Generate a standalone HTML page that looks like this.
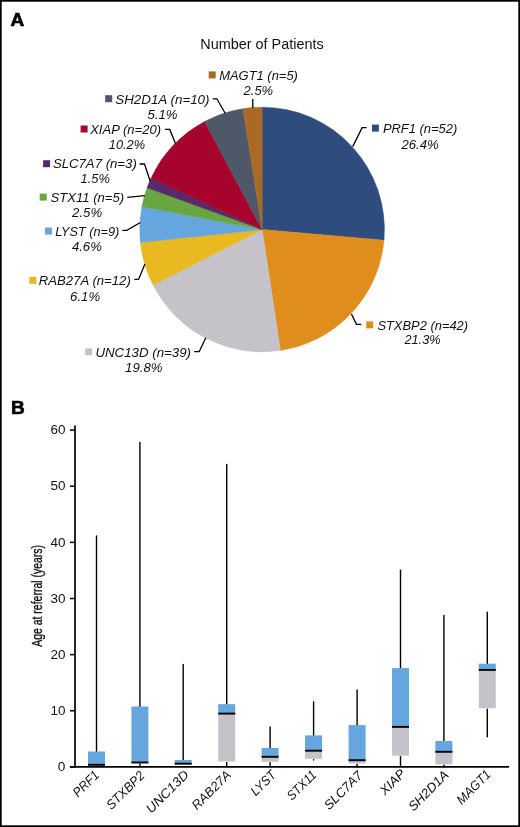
<!DOCTYPE html>
<html><head><meta charset="utf-8"><style>
html,body{margin:0;padding:0;background:#fff;}
body{width:520px;height:827px;overflow:hidden;}
svg{display:block;will-change:transform;}
text{font-family:"Liberation Sans",sans-serif;}
</style></head><body>
<svg width="520" height="827" viewBox="0 0 520 827">
<rect x="0" y="0" width="520" height="827" fill="#fff"/>
<text id="lblA" x="10.6" y="26.3" font-weight="bold" font-size="19" stroke="#000" stroke-width="0.7">A</text>
<text id="title" x="200.3" y="48.8" font-size="14.6" textLength="123.4" lengthAdjust="spacingAndGlyphs" fill="#111">Number of Patients</text>
<g><path d="M262.1,229.55 L262.10,107.20 A122.35,122.35 0 0 1 383.98,240.21 Z" fill="#2E4C7E" stroke="#2E4C7E" stroke-width="0.5" stroke-linejoin="round"/><path d="M262.1,229.55 L383.98,240.21 A122.35,122.35 0 0 1 280.40,350.52 Z" fill="#DF8D1D" stroke="#DF8D1D" stroke-width="0.5" stroke-linejoin="round"/><path d="M262.1,229.55 L280.40,350.52 A122.35,122.35 0 0 1 153.09,285.10 Z" fill="#C5C3C9" stroke="#C5C3C9" stroke-width="0.5" stroke-linejoin="round"/><path d="M262.1,229.55 L153.09,285.10 A122.35,122.35 0 0 1 140.43,242.45 Z" fill="#EAB820" stroke="#EAB820" stroke-width="0.5" stroke-linejoin="round"/><path d="M262.1,229.55 L140.43,242.45 A122.35,122.35 0 0 1 141.92,206.62 Z" fill="#64A6DD" stroke="#64A6DD" stroke-width="0.5" stroke-linejoin="round"/><path d="M262.1,229.55 L141.92,206.62 A122.35,122.35 0 0 1 147.09,187.80 Z" fill="#67A640" stroke="#67A640" stroke-width="0.5" stroke-linejoin="round"/><path d="M262.1,229.55 L147.09,187.80 A122.35,122.35 0 0 1 151.12,178.04 Z" fill="#582A68" stroke="#582A68" stroke-width="0.5" stroke-linejoin="round"/><path d="M262.1,229.55 L151.12,178.04 A122.35,122.35 0 0 1 204.66,121.52 Z" fill="#A6032D" stroke="#A6032D" stroke-width="0.5" stroke-linejoin="round"/><path d="M262.1,229.55 L204.66,121.52 A122.35,122.35 0 0 1 242.96,108.71 Z" fill="#4F5868" stroke="#4F5868" stroke-width="0.5" stroke-linejoin="round"/><path d="M262.1,229.55 L242.96,108.71 A122.35,122.35 0 0 1 262.10,107.20 Z" fill="#A86A24" stroke="#A86A24" stroke-width="0.5" stroke-linejoin="round"/></g>
<g fill="none" stroke="#000" stroke-width="1.3" stroke-linejoin="miter"><path d="M252.8,98.9 L252.8,108.0"/><path d="M212.8,98.8 L216.9,98.8 L225.3,113.5"/><path d="M165.1,129.4 L169.8,129.4 L175.4,143.6"/><path d="M139.6,164.0 L144.5,164.0 L150.2,181.2"/><path d="M127.3,197.4 L144.8,195.6"/><path d="M122.3,230.4 L126.9,230.4 L140.3,222.5"/><path d="M134.4,279.4 L138.6,279.4 L144.9,264.0"/><path d="M194.2,351.7 L199.2,351.7 L205.8,337.8"/><path d="M351.4,314.0 L356.5,324.3 L361.3,324.3"/><path d="M352.7,146.6 L362.1,127.7 L366.6,127.7"/></g>
<g font-size="12.5" font-style="italic" fill="#111"><rect x="208.7" y="71.4" width="7" height="7" fill="#A86A24"/><text id="t1_MAGT1" x="219.2" y="79.8" textLength="78.7" lengthAdjust="spacingAndGlyphs">MAGT1 (n=5)</text><text id="t2_MAGT1" x="243.6" y="95.0" textLength="29.5" lengthAdjust="spacingAndGlyphs">2.5%</text><rect x="105.2" y="95.2" width="7" height="7" fill="#4F5868"/><text id="t1_SH2D1A" x="115.3" y="103.8" textLength="94.2" lengthAdjust="spacingAndGlyphs">SH2D1A (n=10)</text><text id="t2_SH2D1A" x="147.6" y="118.60000000000001" textLength="29.9" lengthAdjust="spacingAndGlyphs">5.1%</text><rect x="80.6" y="125.5" width="7" height="7" fill="#A6032D"/><text id="t1_XIAP" x="90.2" y="134.0" textLength="70.8" lengthAdjust="spacingAndGlyphs">XIAP (n=20)</text><text id="t2_XIAP" x="108.8" y="149.39999999999998" textLength="36.2" lengthAdjust="spacingAndGlyphs">10.2%</text><rect x="43.1" y="160.2" width="7" height="7" fill="#582A68"/><text id="t1_SLC7A7" x="52.9" y="168.3" textLength="83.9" lengthAdjust="spacingAndGlyphs">SLC7A7 (n=3)</text><text id="t2_SLC7A7" x="80.6" y="183.1" textLength="29.4" lengthAdjust="spacingAndGlyphs">1.5%</text><rect x="39.7" y="193.6" width="7" height="7" fill="#67A640"/><text id="t1_STX11" x="50.6" y="201.7" textLength="73.5" lengthAdjust="spacingAndGlyphs">STX11 (n=5)</text><text id="t2_STX11" x="72.1" y="216.89999999999998" textLength="30.1" lengthAdjust="spacingAndGlyphs">2.5%</text><rect x="45.0" y="227.6" width="7" height="7" fill="#64A6DD"/><text id="t1_LYST" x="55.2" y="235.9" textLength="64.1" lengthAdjust="spacingAndGlyphs">LYST (n=9)</text><text id="t2_LYST" x="71.9" y="250.89999999999998" textLength="30.0" lengthAdjust="spacingAndGlyphs">4.6%</text><rect x="29.4" y="276.8" width="7" height="7" fill="#EAB820"/><text id="t1_RAB27A" x="38.8" y="284.9" textLength="92.0" lengthAdjust="spacingAndGlyphs">RAB27A (n=12)</text><text id="t2_RAB27A" x="70.1" y="300.7" textLength="30.0" lengthAdjust="spacingAndGlyphs">6.1%</text><rect x="85.2" y="348.3" width="7" height="7" fill="#C5C3C9"/><text id="t1_UNC13D" x="95.4" y="356.6" textLength="95.6" lengthAdjust="spacingAndGlyphs">UNC13D (n=39)</text><text id="t2_UNC13D" x="125.1" y="372.2" textLength="37.3" lengthAdjust="spacingAndGlyphs">19.8%</text><rect x="366.2" y="321.4" width="7" height="7" fill="#DF8D1D"/><text id="t1_STXBP2" x="377.4" y="329.75" textLength="90.7" lengthAdjust="spacingAndGlyphs">STXBP2 (n=42)</text><text id="t2_STXBP2" x="404.4" y="344.2" textLength="36.2" lengthAdjust="spacingAndGlyphs">21.3%</text><rect x="371.9" y="124.6" width="7" height="7" fill="#2E4C7E"/><text id="t1_PRF1" x="382.9" y="133.3" textLength="74.4" lengthAdjust="spacingAndGlyphs">PRF1 (n=52)</text><text id="t2_PRF1" x="401.4" y="148.5" textLength="37.4" lengthAdjust="spacingAndGlyphs">26.4%</text></g>
<text id="lblB" x="10.9" y="413.6" font-weight="bold" font-size="19" stroke="#000" stroke-width="0.7">B</text>
<g stroke="#000" stroke-width="1.7">
<line x1="75" y1="425.6" x2="75" y2="767.8"/>
<line x1="70" y1="766.90" x2="75" y2="766.90" stroke-width="1.5"/><line x1="70" y1="710.77" x2="75" y2="710.77" stroke-width="1.5"/><line x1="70" y1="654.63" x2="75" y2="654.63" stroke-width="1.5"/><line x1="70" y1="598.50" x2="75" y2="598.50" stroke-width="1.5"/><line x1="70" y1="542.37" x2="75" y2="542.37" stroke-width="1.5"/><line x1="70" y1="486.23" x2="75" y2="486.23" stroke-width="1.5"/><line x1="70" y1="430.10" x2="75" y2="430.10" stroke-width="1.5"/>
<line x1="69.9" y1="766.9" x2="509.1" y2="766.9"/>
</g>
<g font-size="12" fill="#111"><text id="yt0" x="65.4" y="771.10" text-anchor="end" textLength="7.6" lengthAdjust="spacingAndGlyphs">0</text><text id="yt10" x="65.4" y="714.97" text-anchor="end" textLength="15.0" lengthAdjust="spacingAndGlyphs">10</text><text id="yt20" x="65.4" y="658.83" text-anchor="end" textLength="15.0" lengthAdjust="spacingAndGlyphs">20</text><text id="yt30" x="65.4" y="602.70" text-anchor="end" textLength="15.0" lengthAdjust="spacingAndGlyphs">30</text><text id="yt40" x="65.4" y="546.57" text-anchor="end" textLength="15.0" lengthAdjust="spacingAndGlyphs">40</text><text id="yt50" x="65.4" y="490.43" text-anchor="end" textLength="15.0" lengthAdjust="spacingAndGlyphs">50</text><text id="yt60" x="65.4" y="434.30" text-anchor="end" textLength="15.0" lengthAdjust="spacingAndGlyphs">60</text></g>
<text id="ytitle" transform="translate(41.6,646.8) rotate(-90)" font-size="14.6" textLength="101.8" lengthAdjust="spacingAndGlyphs" fill="#111" stroke="#111" stroke-width="0.35">Age at referral (years)</text>
<g><line x1="96.5" y1="535.9" x2="96.5" y2="751.5" stroke="#000" stroke-width="1.4" stroke-linecap="round"/><line x1="96.5" y1="766.9" x2="96.5" y2="766.9" stroke="#000" stroke-width="1.4" stroke-linecap="round"/><rect x="88.00" y="751.5" width="17.0" height="13.30" fill="#64A6DD"/><rect x="88.00" y="764.8" width="17.0" height="1.20" fill="#C4C2C8"/><line x1="88.00" y1="764.8" x2="105.00" y2="764.8" stroke="#000" stroke-width="1.9"/><line x1="139.9" y1="442.5" x2="139.9" y2="706.5" stroke="#000" stroke-width="1.4" stroke-linecap="round"/><line x1="139.9" y1="763.9" x2="139.9" y2="766.9" stroke="#000" stroke-width="1.4" stroke-linecap="round"/><rect x="131.40" y="706.5" width="17.0" height="56.00" fill="#64A6DD"/><rect x="131.40" y="762.5" width="17.0" height="0.50" fill="#C4C2C8"/><line x1="131.40" y1="762.5" x2="148.40" y2="762.5" stroke="#000" stroke-width="1.9"/><line x1="183.2" y1="664.5" x2="183.2" y2="760.0" stroke="#000" stroke-width="1.4" stroke-linecap="round"/><rect x="174.70" y="760.0" width="17.0" height="3.70" fill="#64A6DD"/><rect x="174.70" y="763.7" width="17.0" height="0.70" fill="#C4C2C8"/><line x1="174.70" y1="763.7" x2="191.70" y2="763.7" stroke="#000" stroke-width="1.9"/><line x1="226.7" y1="464.4" x2="226.7" y2="704.2" stroke="#000" stroke-width="1.4" stroke-linecap="round"/><line x1="226.7" y1="762.4" x2="226.7" y2="766.9" stroke="#000" stroke-width="1.4" stroke-linecap="round"/><rect x="218.20" y="704.2" width="17.0" height="9.40" fill="#64A6DD"/><rect x="218.20" y="713.6" width="17.0" height="47.90" fill="#C4C2C8"/><line x1="218.20" y1="713.6" x2="235.20" y2="713.6" stroke="#000" stroke-width="1.9"/><line x1="270.1" y1="726.9" x2="270.1" y2="748.0" stroke="#000" stroke-width="1.4" stroke-linecap="round"/><line x1="270.1" y1="762.6999999999999" x2="270.1" y2="766.9" stroke="#000" stroke-width="1.4" stroke-linecap="round"/><rect x="261.60" y="748.0" width="17.0" height="8.80" fill="#64A6DD"/><rect x="261.60" y="756.8" width="17.0" height="5.00" fill="#C4C2C8"/><line x1="261.60" y1="756.8" x2="278.60" y2="756.8" stroke="#000" stroke-width="1.9"/><line x1="313.6" y1="701.8" x2="313.6" y2="735.4" stroke="#000" stroke-width="1.4" stroke-linecap="round"/><line x1="313.6" y1="759.6999999999999" x2="313.6" y2="760.0" stroke="#000" stroke-width="1.4" stroke-linecap="round"/><rect x="305.10" y="735.4" width="17.0" height="15.30" fill="#64A6DD"/><rect x="305.10" y="750.7" width="17.0" height="8.10" fill="#C4C2C8"/><line x1="305.10" y1="750.7" x2="322.10" y2="750.7" stroke="#000" stroke-width="1.9"/><line x1="357.1" y1="690.0" x2="357.1" y2="725.1" stroke="#000" stroke-width="1.4" stroke-linecap="round"/><line x1="357.1" y1="764.3" x2="357.1" y2="766.9" stroke="#000" stroke-width="1.4" stroke-linecap="round"/><rect x="348.60" y="725.1" width="17.0" height="35.10" fill="#64A6DD"/><rect x="348.60" y="760.2" width="17.0" height="3.20" fill="#C4C2C8"/><line x1="348.60" y1="760.2" x2="365.60" y2="760.2" stroke="#000" stroke-width="1.9"/><line x1="400.5" y1="570.2" x2="400.5" y2="668.1" stroke="#000" stroke-width="1.4" stroke-linecap="round"/><line x1="400.5" y1="756.6" x2="400.5" y2="766.9" stroke="#000" stroke-width="1.4" stroke-linecap="round"/><rect x="392.00" y="668.1" width="17.0" height="58.80" fill="#64A6DD"/><rect x="392.00" y="726.9" width="17.0" height="28.80" fill="#C4C2C8"/><line x1="392.00" y1="726.9" x2="409.00" y2="726.9" stroke="#000" stroke-width="1.9"/><line x1="443.9" y1="615.4" x2="443.9" y2="741.0" stroke="#000" stroke-width="1.4" stroke-linecap="round"/><line x1="443.9" y1="765.3" x2="443.9" y2="766.9" stroke="#000" stroke-width="1.4" stroke-linecap="round"/><rect x="435.40" y="741.0" width="17.0" height="10.80" fill="#64A6DD"/><rect x="435.40" y="751.8" width="17.0" height="12.60" fill="#C4C2C8"/><line x1="435.40" y1="751.8" x2="452.40" y2="751.8" stroke="#000" stroke-width="1.9"/><line x1="487.3" y1="612.3" x2="487.3" y2="663.7" stroke="#000" stroke-width="1.4" stroke-linecap="round"/><line x1="487.3" y1="709.1999999999999" x2="487.3" y2="736.7" stroke="#000" stroke-width="1.4" stroke-linecap="round"/><rect x="478.80" y="663.7" width="17.0" height="6.20" fill="#64A6DD"/><rect x="478.80" y="669.9" width="17.0" height="38.40" fill="#C4C2C8"/><line x1="478.80" y1="669.9" x2="495.80" y2="669.9" stroke="#000" stroke-width="1.9"/></g>
<g font-size="13" font-style="italic" fill="#111"><text id="x_PRF1" transform="translate(99.9,775.9) rotate(-45)" text-anchor="end" textLength="30.93" lengthAdjust="spacingAndGlyphs">PRF1</text><text id="x_STXBP2" transform="translate(145.3,776.4) rotate(-45)" text-anchor="end" textLength="47.85" lengthAdjust="spacingAndGlyphs">STXBP2</text><text id="x_UNC13D" transform="translate(189.6,775.6) rotate(-45)" text-anchor="end" textLength="54.31" lengthAdjust="spacingAndGlyphs">UNC13D</text><text id="x_RAB27A" transform="translate(231.7,775.8) rotate(-45)" text-anchor="end" textLength="48.96" lengthAdjust="spacingAndGlyphs">RAB27A</text><text id="x_LYST" transform="translate(276.8,775.6) rotate(-45)" text-anchor="end" textLength="29.62" lengthAdjust="spacingAndGlyphs">LYST</text><text id="x_STX11" transform="translate(317.2,775.8) rotate(-45)" text-anchor="end" textLength="35.78" lengthAdjust="spacingAndGlyphs">STX11</text><text id="x_SLC7A7" transform="translate(363.2,776.4) rotate(-45)" text-anchor="end" textLength="48.07" lengthAdjust="spacingAndGlyphs">SLC7A7</text><text id="x_XIAP" transform="translate(406.1,774.6) rotate(-45)" text-anchor="end" textLength="29.82" lengthAdjust="spacingAndGlyphs">XIAP</text><text id="x_SH2D1A" transform="translate(449.4,775.8) rotate(-45)" text-anchor="end" textLength="50.93" lengthAdjust="spacingAndGlyphs">SH2D1A</text><text id="x_MAGT1" transform="translate(491.7,775.1) rotate(-45)" text-anchor="end" textLength="42.48" lengthAdjust="spacingAndGlyphs">MAGT1</text></g>
<rect x="0.85" y="0.85" width="518.3" height="825.3" fill="none" stroke="#000" stroke-width="1.7"/>
</svg>
</body></html>
